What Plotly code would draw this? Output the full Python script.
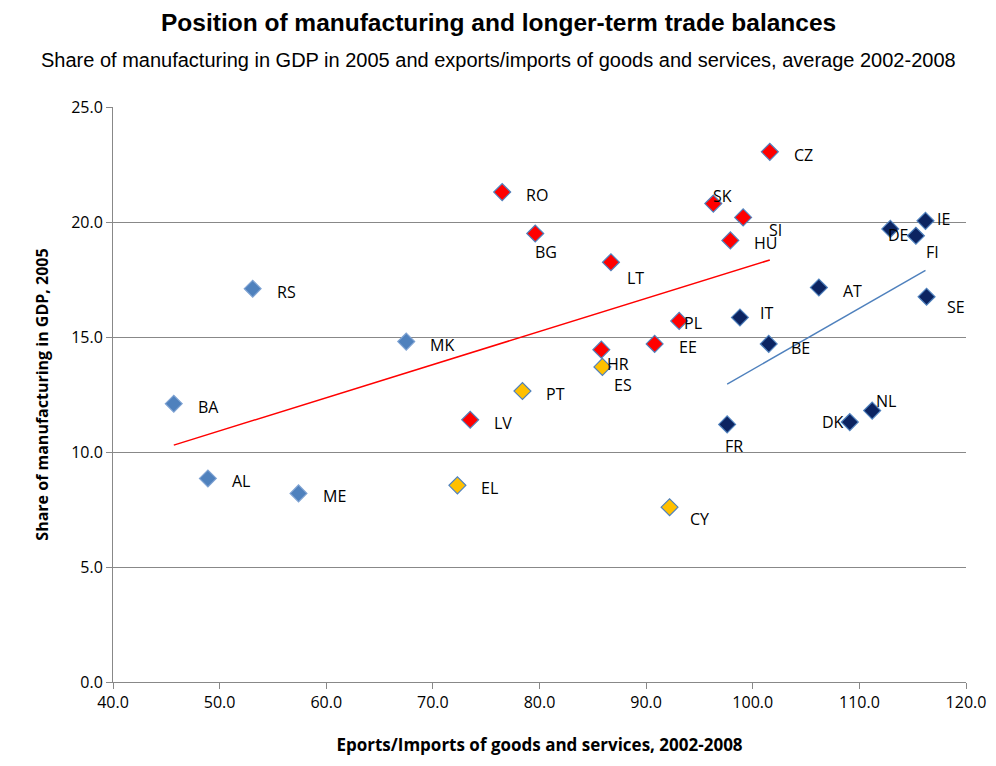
import plotly.graph_objects as go

# exports/imports ratio (x) and manufacturing share of GDP (y)
grp1_names = ["BA", "AL", "ME", "RS", "MK"]
grp1_x = [45.7, 48.9, 57.4, 53.1, 67.5]
grp1_y = [12.1, 8.85, 8.2, 17.1, 14.8]

grp2_names = ["EL", "PT", "ES", "CY"]
grp2_x = [72.3, 78.4, 85.9, 92.2]
grp2_y = [8.55, 12.65, 13.7, 7.6]

grp3_names = ["RO", "BG", "LT", "LV", "HR", "EE", "PL", "SK", "SI", "HU", "CZ"]
grp3_x = [76.5, 79.6, 86.7, 73.5, 85.8, 90.8, 93.1, 96.3, 99.1, 97.9, 101.6]
grp3_y = [21.3, 19.5, 18.25, 11.4, 14.45, 14.7, 15.7, 20.8, 20.2, 19.2, 23.05]

grp4_names = ["FR", "BE", "IT", "AT", "DK", "NL", "DE", "FI", "IE", "SE"]
grp4_x = [97.6, 101.5, 98.8, 106.2, 109.1, 111.2, 112.9, 115.3, 116.2, 116.3]
grp4_y = [11.2, 14.7, 15.85, 17.15, 11.3, 11.8, 19.7, 19.4, 20.05, 16.75]

trend_red_x = [45.7, 101.6]
trend_red_y = [10.3, 18.35]
trend_blue_x = [97.6, 116.2]
trend_blue_y = [12.95, 17.9]

# label offsets in pixels (dx, dy), default to the right
offsets = {"BG": (-2, 18), "LT": (14, 16), "SK": (-2, -8), "SI": (24, 13),
           "HU": (22, 3), "PL": (3, 2), "HR": (4, 14), "ES": (10, 18),
           "FR": (-4, 22), "DK": (-30, 0), "NL": (2, -10), "DE": (-4, 6),
           "FI": (8, 16), "IE": (10, -2), "SE": (18, 10), "BE": (20, 4),
           "CY": (18, 12), "IT": (18, -4)}

fig = go.Figure()
groups = [
    (grp1_names, grp1_x, grp1_y, "#4F81BD", "#7FA3D3"),
    (grp2_names, grp2_x, grp2_y, "#FFC000", "#4F81BD"),
    (grp3_names, grp3_x, grp3_y, "#FF0000", "#4F81BD"),
    (grp4_names, grp4_x, grp4_y, "#0C2461", "#4F81BD"),
]
annots = []
for names, xs, ys, fill, edge in groups:
    fig.add_trace(go.Scatter(
        x=xs, y=ys, mode="markers",
        marker=dict(symbol="diamond", size=13, color=fill,
                    line=dict(color=edge, width=1.2)),
        showlegend=False, cliponaxis=False))
    for n, x, y in zip(names, xs, ys):
        dx, dy = offsets.get(n, (22, 3))
        annots.append(dict(x=x, y=y, text=n, showarrow=False, xanchor="left",
                           yanchor="middle", xshift=dx, yshift=-dy,
                           font=dict(family="Open Sans", size=16, color="#000")))

fig.add_trace(go.Scatter(x=trend_red_x, y=trend_red_y, mode="lines",
                         line=dict(color="#FF0000", width=1.5), showlegend=False))
fig.add_trace(go.Scatter(x=trend_blue_x, y=trend_blue_y, mode="lines",
                         line=dict(color="#4F81BD", width=1.5), showlegend=False))

# titles are centred on the whole chart, not the plot area
title_x = (490 - 105) / 853
annots += [
    dict(text="<b>Position of manufacturing and longer-term trade balances</b>",
         x=title_x, y=1, xref="paper", yref="paper", yshift=85, yanchor="middle",
         showarrow=False, font=dict(family="Liberation Sans", size=24.5)),
    dict(text="Share of manufacturing in GDP in 2005 and exports/imports of goods and services, average 2002-2008",
         x=title_x, y=1, xref="paper", yref="paper", yshift=47, yanchor="middle",
         showarrow=False, font=dict(family="Liberation Sans", size=20)),
]

# page body adds an 8px margin, so the figure is sized 980x750
fig.update_layout(
    width=980, height=750,
    paper_bgcolor="white", plot_bgcolor="white",
    margin=dict(l=105, r=22, t=99, b=76, autoexpand=False),
    font=dict(family="Open Sans", color="#000"),
    annotations=annots,
)
fig.update_xaxes(range=[40, 120], dtick=10, tickformat=".1f", automargin=False,
                 showline=True, linecolor="#888", ticks="outside", ticklen=6,
                 tickcolor="#888", showgrid=False, zeroline=False,
                 tickfont=dict(size=16),
                 title=dict(text="<b>Eports/Imports of goods and services, 2002-2008</b>",
                            font=dict(size=17), standoff=26))
fig.update_yaxes(range=[0, 25], dtick=5, tickformat=".1f", automargin=False,
                 showline=True, linecolor="#888", ticks="outside", ticklen=6,
                 tickcolor="#888", showgrid=True, gridcolor="#888", zeroline=False,
                 tickfont=dict(size=16),
                 title=dict(text="<b>Share of manufacturing in GDP, 2005</b>",
                            font=dict(size=16), standoff=18))

fig.write_html("out.html")
